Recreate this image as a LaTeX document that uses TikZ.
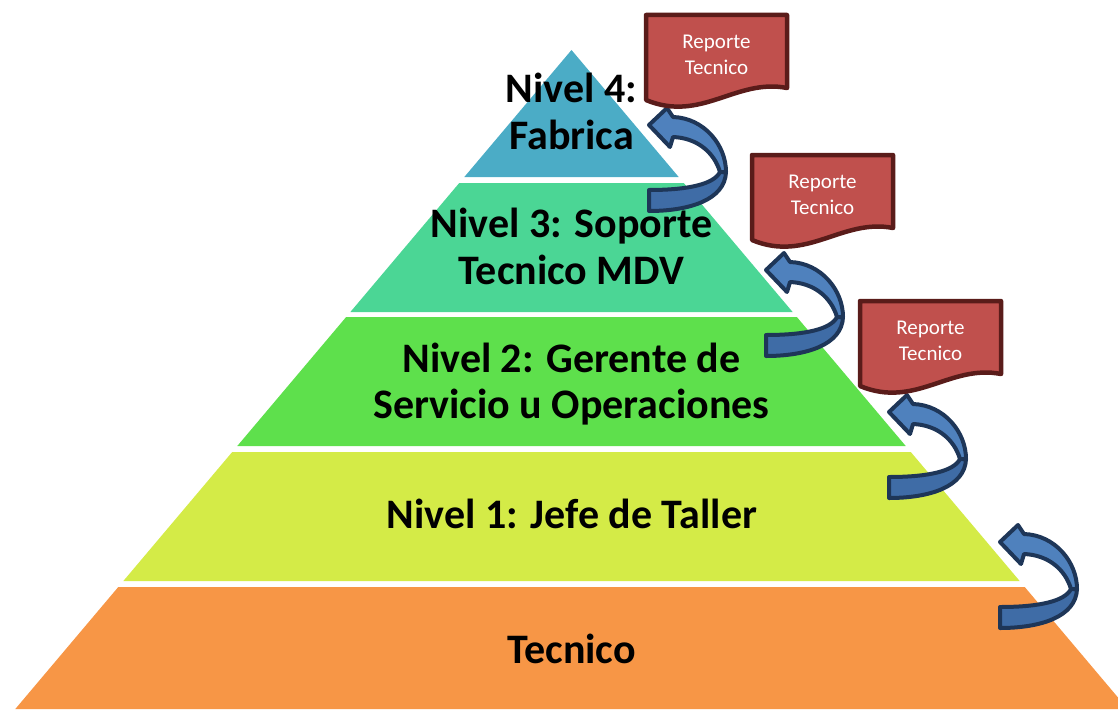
\documentclass[tikz,border=0pt]{standalone}
\usepackage{fontspec}
\setmainfont{Carlito}
\definecolor{lvfour}{HTML}{4BACC6}
\definecolor{lvthree}{HTML}{4BD695}
\definecolor{lvtwo}{HTML}{5EE04C}
\definecolor{lvone}{HTML}{D4EB47}
\definecolor{lvbase}{HTML}{F79646}
\definecolor{repred}{HTML}{C0504D}
\definecolor{repdark}{HTML}{5A1C1A}
\definecolor{arrlight}{HTML}{4F81BD}
\definecolor{arrshade}{HTML}{3F6CA6}
\definecolor{arrdark}{HTML}{1E3658}
\begin{document}
\begin{tikzpicture}[x=1pt, y=-1pt,
	level/.style={font=\bfseries\fontsize{42}{46.5}\selectfont, align=center, inner sep=0pt},
	report/.style={font=\fontsize{21}{26}\selectfont, align=center, text=white, inner sep=0pt},
	docbox/.style={fill=repred, draw=repdark, line width=4.5pt, line join=round},
	uarrow/.pic={
		\draw[fill=arrlight, draw=arrdark, line width=4pt, line join=round] (24,-83) .. controls (55,-82) and (77,-55) .. (77,-28) -- (71,-28) .. controls (65,-48) and (48,-62) .. (24,-63) -- (21,-53) -- (0,-75) -- (18,-92) -- cycle;
		\draw[fill=arrshade, draw=arrdark, line width=4pt, line join=round] (77,-28) .. controls (76,0) and (40,11) .. (0,11) -- (0,-10) .. controls (40,-10) and (65,-16) .. (71,-28) -- cycle;
	}]
	\useasboundingbox (0,0) rectangle (1118,709);
	% pyramid bands
	\foreach \t/\b/\c in {50/177/lvfour, 183/312/lvthree, 317/446/lvtwo, 452/581/lvone, 587/709/lvbase}
		\fill[\c] ({571.5-0.844*(\t-50)},\t) -- ({571.5+0.844*(\t-50)},\t) -- ({571.5+0.844*(\b-50)},\b) -- ({571.5-0.844*(\b-50)},\b) -- cycle;
	\node[level] (lvfour) at (571.5,111.5) {Nivel 4:\\Fabrica};
	\node[level] (lvthree) at (571.5,246.5) {Nivel 3: Soporte\\Tecnico MDV};
	\node[level] (lvtwo) at (571.5,384) {Nivel 2: Gerente de\\Servicio u Operaciones};
	\node[level, anchor=base] (lvone) at (572,528) {Nivel 1: Jefe de Taller};
	\node[level, anchor=base] (tech) at (571.5,663) {Tecnico};
	% curved arrows
	\foreach \x/\y in {649/200, 766/345, 889/487, 1000/617}
		\pic at (\x,\y) {uarrow};
	% reports
	\foreach \i/\x/\y in {1/646/15, 2/752/155, 3/860/301} {
		\draw[docbox] (\x,\y+85) -- (\x,\y) -- (\x+141,\y) -- (\x+141,\y+73) .. controls (\x+90,\y+63) and (\x+55,\y+108) .. (\x,\y+85) -- cycle;
		\node[report] (rep\i) at (\x+70.5,\y+40) {Reporte\\Tecnico};
	}
\end{tikzpicture}
\end{document}
